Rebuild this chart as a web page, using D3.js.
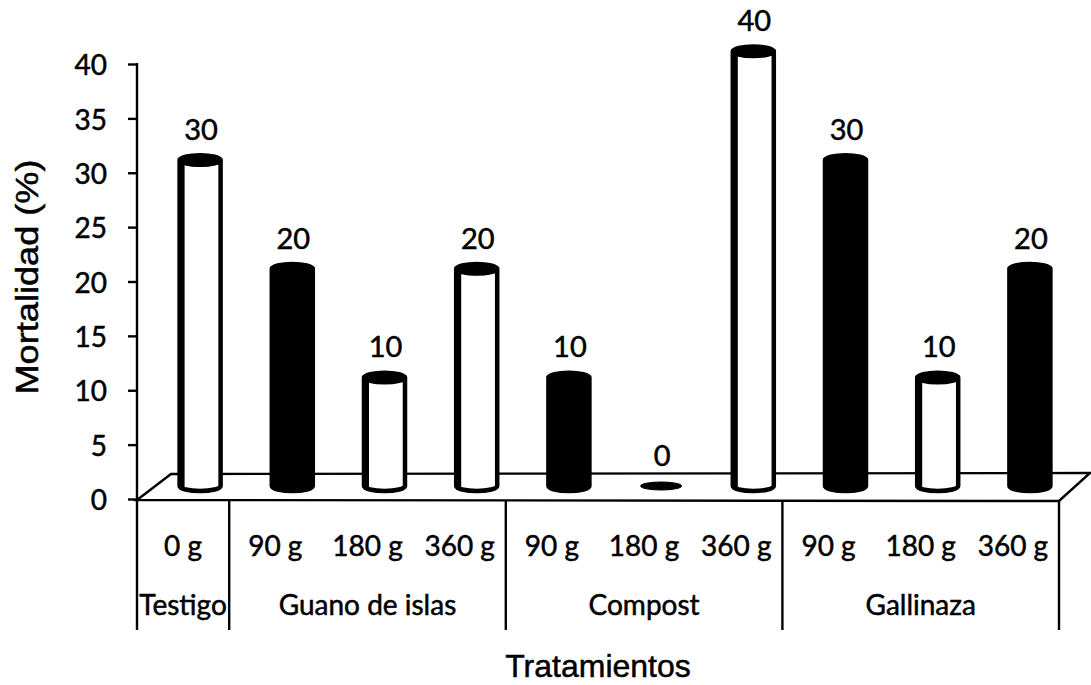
<!DOCTYPE html>
<html>
<head>
<meta charset="utf-8">
<script src="https://cdn.jsdelivr.net/npm/d3@7"></script>
<style>
  html, body { margin: 0; padding: 0; background: #fff; }
  svg { display: block; }
  text { stroke: #000; stroke-width: 0.5px; }
</style>
</head>
<body>
<svg id="chart" width="1091" height="685"></svg>
<script>
// Mortality (%) by treatment and dose
const groups = ["Testigo", "Guano de islas", "Compost", "Gallinaza"];
const groupSizes = [1, 3, 3, 3];
const doses = ["0 g", "90 g", "180 g", "360 g", "90 g", "180 g", "360 g", "90 g", "180 g", "360 g"];
const mortality = [30, 20, 10, 20, 10, 0, 40, 30, 10, 20];
const yTicks = [0, 5, 10, 15, 20, 25, 30, 35, 40];

// fill of each cylinder (open vs. solid)
const barShade = ["#fff", "#000", "#fff", "#fff", "#000", "#000", "#fff", "#000", "#fff", "#000"];

const svg = d3.select("#chart");
const labelFont = "Lato, 'Open Sans', sans-serif";
const titleFont = "'Liberation Sans', Arial, sans-serif";

// plot frame
const left = 137, right = 1059, floorY = 500, tableBottom = 630;
const depthX = 34, depthY = 26;            // floor depth (oblique)
const bar = { rx: 20.5, ry: 5 };

const y = d3.scaleLinear().domain([0, 40]).range([499, 64]);
const x = d3.scaleBand().domain(d3.range(doses.length)).range([left, right]);

// floor parallelogram
svg.append("path")
  .attr("d", `M${left},${floorY} L${left + depthX},${floorY - depthY} L${right + depthX - 3},${floorY - depthY - 1} L${right},${floorY + 1} Z`)
  .attr("fill", "#fff").attr("stroke", "#000").attr("stroke-width", 2.4);

// y axis
const yAxis = d3.axisLeft(y).tickValues(yTicks).tickSize(9).tickPadding(21).tickSizeOuter(0);
const gy = svg.append("g").attr("transform", `translate(${left},0)`).call(yAxis);
gy.select(".domain").remove();
gy.selectAll(".tick line").attr("stroke", "#000").attr("stroke-width", 2.4);
gy.selectAll(".tick text")
  .attr("font-family", labelFont).attr("font-size", 28).attr("fill", "#000")
  .attr("dy", "0.38em");
svg.append("line").attr("x1", left).attr("x2", left).attr("y1", y(40) - 1).attr("y2", tableBottom)
  .attr("stroke", "#000").attr("stroke-width", 2.4);

// cylinder body (front-facing outline) and its top cap
function cylinderBody(cx, yTop, yBot) {
  const l = cx - bar.rx, r = cx + bar.rx;
  return `M${l},${yTop} L${l},${yBot} A${bar.rx},${bar.ry} 0 0 0 ${r},${yBot} L${r},${yTop} A${bar.rx},${bar.ry} 0 0 1 ${l},${yTop} Z`;
}

const cx = i => x(i) + x.bandwidth() / 2 + depthX / 2;
const yb = v => y(v) - depthY / 2;

const bars = svg.append("g").selectAll("g")
  .data(mortality.map((v, i) => ({ v, i })))
  .join("g");

bars.filter(d => d.v > 0).append("path")
  .attr("d", d => cylinderBody(cx(d.i), yb(d.v), yb(0)))
  .attr("fill", d => barShade[d.i])
  .attr("stroke", "#000").attr("stroke-width", 4.5).attr("stroke-linejoin", "round");

// shaded left flank of the open cylinders
bars.filter(d => d.v > 0 && barShade[d.i] === "#fff").append("rect")
  .attr("x", d => cx(d.i) - bar.rx).attr("y", d => yb(d.v))
  .attr("width", 5).attr("height", d => yb(0) - yb(d.v) + bar.ry - 1)
  .attr("fill", "#000");

bars.append("ellipse")
  .attr("cx", d => cx(d.i)).attr("cy", d => yb(d.v))
  .attr("rx", bar.rx).attr("ry", d => d.v > 0 ? bar.ry : 4)
  .attr("fill", "#000")
  .attr("stroke", "#000").attr("stroke-width", d => d.v > 0 ? 3.5 : 1);

// value labels
bars.append("text")
  .attr("x", d => cx(d.i) + 1).attr("y", d => yb(d.v) - 20)
  .attr("text-anchor", "middle")
  .attr("font-family", labelFont).attr("font-size", 29).attr("fill", "#000")
  .text(d => d.v);

// category table under the floor
const table = svg.append("g");
table.selectAll("text.dose")
  .data(doses)
  .join("text").attr("class", "dose")
  .attr("x", (d, i) => x(i) + x.bandwidth() / 2)
  .attr("y", 556)
  .attr("text-anchor", "middle")
  .attr("font-family", labelFont).attr("font-size", 28).attr("fill", "#000")
  .text(d => d);

const starts = groupSizes.map((n, k) => d3.sum(groupSizes.slice(0, k)));
table.selectAll("text.group")
  .data(groups)
  .join("text").attr("class", "group")
  .attr("x", (d, k) => (x(starts[k]) + x(starts[k] + groupSizes[k] - 1) + x.bandwidth()) / 2)
  .attr("y", 615)
  .attr("text-anchor", "middle")
  .attr("font-family", labelFont).attr("font-size", 28).attr("fill", "#000")
  .text(d => d);

table.selectAll("line.sep")
  .data(starts.slice(1).concat([doses.length]))
  .join("line").attr("class", "sep")
  .attr("x1", s => s < doses.length ? x(s) : right)
  .attr("x2", s => s < doses.length ? x(s) : right)
  .attr("y1", floorY).attr("y2", tableBottom)
  .attr("stroke", "#000").attr("stroke-width", 2.4);

// axis titles
svg.append("text")
  .attr("transform", "translate(38,277) scale(1,1.13) rotate(-90)")
  .attr("text-anchor", "middle")
  .attr("font-family", titleFont).attr("font-size", 32).attr("fill", "#000")
  .text("Mortalidad (%)");

svg.append("text")
  .attr("x", 598).attr("y", 677)
  .attr("text-anchor", "middle")
  .attr("font-family", titleFont).attr("font-size", 32).attr("fill", "#000")
  .text("Tratamientos");
</script>
</body>
</html>
